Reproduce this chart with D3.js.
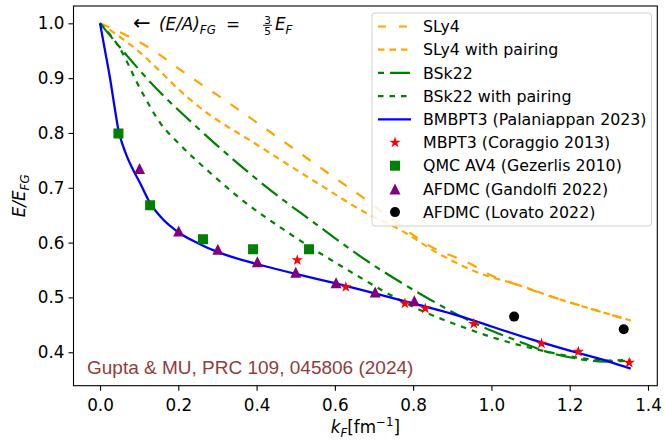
<!DOCTYPE html>
<html>
<head>
<meta charset="utf-8">
<script src="https://cdn.jsdelivr.net/npm/d3@7"></script>
<style>
  body { margin: 0; background: #fff; }
  svg { display: block; font-family: "DejaVu Sans", sans-serif; }
</style>
</head>
<body>
<svg id="chart" width="664" height="440"></svg>
<script>
// curves (kF in fm^-1, E/E_FG)
const sly4K = [0, 0.146, 0.2, 0.256, 0.3, 0.45, 0.6, 0.68, 0.75, 0.84, 0.95, 1.0, 1.05, 1.16, 1.26, 1.356];
const sly4E = [1.0, 0.946, 0.918, 0.89, 0.869, 0.794, 0.718, 0.678, 0.64, 0.595, 0.56, 0.54, 0.527, 0.5, 0.478, 0.458];

const sly4pK = [0, 0.1, 0.15, 0.2, 0.256, 0.4, 0.55, 0.685, 0.76, 0.87, 0.99, 1.05, 1.16, 1.26, 1.356];
const sly4pE = [1.0, 0.948, 0.915, 0.88, 0.846, 0.779, 0.711, 0.652, 0.626, 0.578, 0.539, 0.527, 0.5, 0.478, 0.458];

const bsk22K = [0, 0.064, 0.128, 0.256, 0.462, 0.538, 0.667, 0.846, 0.957, 1.07, 1.128, 1.213, 1.29, 1.356];
const bsk22E = [1.0, 0.945, 0.893, 0.805, 0.681, 0.641, 0.574, 0.495, 0.453, 0.42, 0.404, 0.389, 0.383, 0.385];

const bsk22pK = [0, 0.05, 0.103, 0.154, 0.205, 0.282, 0.359, 0.479, 0.633, 0.803, 0.923, 1.017, 1.136, 1.213, 1.3, 1.356];
const bsk22pE = [1.0, 0.955, 0.88, 0.818, 0.778, 0.727, 0.68, 0.619, 0.55, 0.482, 0.447, 0.424, 0.402, 0.391, 0.385, 0.386];

const bmbptK = [0, 0.012, 0.025, 0.037, 0.047, 0.058, 0.07, 0.085, 0.1, 0.128, 0.16, 0.2, 0.25, 0.3, 0.4, 0.5, 0.6, 0.7, 0.8, 0.9, 1.0, 1.1, 1.2, 1.3, 1.356];
const bmbptE = [1.0, 0.953, 0.902, 0.848, 0.805, 0.778, 0.755, 0.732, 0.712, 0.672, 0.643, 0.619, 0.599, 0.583, 0.561, 0.543, 0.526, 0.508, 0.489, 0.47, 0.447, 0.424, 0.403, 0.383, 0.37];

// points
const mbptK = [0.504, 0.628, 0.779, 0.831, 0.955, 1.128, 1.222, 1.352];
const mbptE = [0.568, 0.519, 0.489, 0.48, 0.452, 0.416, 0.401, 0.381];
const qmcK = [0.047, 0.128, 0.263, 0.391, 0.534];
const qmcE = [0.799, 0.668, 0.606, 0.588, 0.588];
const gandK = [0.101, 0.201, 0.301, 0.402, 0.5, 0.603, 0.703, 0.803];
const gandE = [0.735, 0.621, 0.588, 0.565, 0.546, 0.527, 0.51, 0.494];
const lovatoK = [1.058, 1.338];
const lovatoE = [0.465, 0.442];

const xTicks = [0.0, 0.2, 0.4, 0.6, 0.8, 1.0, 1.2, 1.4];
const yTicks = [0.4, 0.5, 0.6, 0.7, 0.8, 0.9, 1.0];

const svg = d3.select("#chart");
const box = { left: 73.5, right: 657.3, top: 6, bottom: 385.7 };

const x = d3.scaleLinear().domain([-0.0678, 1.4238]).range([box.left, box.right]);
const y = d3.scaleLinear().domain([0.339, 1.0316]).range([box.bottom, box.top]);

const zip = (ks, es) => ks.map((k, i) => [k, es[i]]);
const line = d3.line().x(d => x(d[0])).y(d => y(d[1])).curve(d3.curveMonotoneX);

const curves = [
  { label: "SLy4", data: zip(sly4K, sly4E), color: "#ffa500", dash: "10,12", legendDash: "8,13", width: 2.2 },
  { label: "SLy4 with pairing", data: zip(sly4pK, sly4pE), color: "#ffa500", dash: "6.5,5", legendDash: "6.5,5", width: 2.2 },
  { label: "BSk22", data: zip(bsk22K, bsk22E), color: "#008000", dash: "20,6,6,6", legendDash: "20,6,6,6", legendOffset: 26, width: 2.2 },
  { label: "BSk22 with pairing", data: zip(bsk22pK, bsk22pE), color: "#008000", dash: "5.5,6", legendDash: "5.5,6", width: 2.2 },
  { label: "BMBPT3 (Palaniappan 2023)", data: zip(bmbptK, bmbptE), color: "#0000ff", dash: null, width: 2.3 }
];

svg.append("clipPath").attr("id", "plotclip")
  .append("rect").attr("x", box.left).attr("y", box.top)
  .attr("width", box.right - box.left).attr("height", box.bottom - box.top);

const plot = svg.append("g").attr("clip-path", "url(#plotclip)");

curves.forEach(c => {
  plot.append("path")
    .datum(c.data)
    .attr("d", line)
    .attr("fill", "none")
    .attr("stroke", c.color)
    .attr("stroke-width", c.width)
    .attr("stroke-dasharray", c.dash);
});

// marker shapes
const triPath = h => `M0,${-h}L${h},${h}L${-h},${h}Z`;
const starSym = d3.symbol().type(d3.symbolStar).size(40)();
const squareSym = d3.symbol().type(d3.symbolSquare).size(100)();

const markers = [
  { label: "MBPT3 (Coraggio 2013)", data: zip(mbptK, mbptE), color: "red", shape: starSym },
  { label: "QMC AV4 (Gezerlis 2010)", data: zip(qmcK, qmcE), color: "#008000", shape: squareSym },
  { label: "AFDMC (Gandolfi 2022)", data: zip(gandK, gandE), color: "#800080", shape: triPath(5.5) },
  { label: "AFDMC (Lovato 2022)", data: zip(lovatoK, lovatoE), color: "black", shape: "circle" }
];

markers.forEach(m => {
  const g = plot.append("g");
  if (m.shape === "circle") {
    g.selectAll("circle").data(m.data).join("circle")
      .attr("cx", d => x(d[0])).attr("cy", d => y(d[1])).attr("r", 5)
      .attr("fill", m.color);
  } else {
    g.selectAll("path").data(m.data).join("path")
      .attr("d", m.shape)
      .attr("transform", d => `translate(${x(d[0])},${y(d[1])})`)
      .attr("fill", m.color);
  }
});

// axes
const xAxis = svg.append("g").attr("transform", `translate(0,${box.bottom})`)
  .call(d3.axisBottom(x).tickValues(xTicks).tickFormat(d3.format(".1f")).tickSize(5).tickPadding(8.5).tickSizeOuter(0));
const yAxis = svg.append("g").attr("transform", `translate(${box.left},0)`)
  .call(d3.axisLeft(y).tickValues(yTicks).tickFormat(d3.format(".1f")).tickSize(5).tickPadding(4).tickSizeOuter(0));
[xAxis, yAxis].forEach(a => {
  a.select(".domain").remove();
  a.selectAll("text").attr("font-size", 16.8).attr("font-family", "DejaVu Sans").attr("fill", "#000");
  a.selectAll("line").attr("stroke", "#000").attr("stroke-width", 1.1);
});

svg.append("rect")
  .attr("x", box.left).attr("y", box.top)
  .attr("width", box.right - box.left).attr("height", box.bottom - box.top)
  .attr("fill", "none").attr("stroke", "#000").attr("stroke-width", 1.1);

// axis labels
const xl = svg.append("text").attr("x", (box.left + box.right) / 2).attr("y", 433)
  .attr("text-anchor", "middle").attr("font-size", 16.8);
xl.append("tspan").attr("font-style", "italic").text("k");
xl.append("tspan").attr("font-style", "italic").attr("font-size", 11.8).attr("dy", 4).text("F");
xl.append("tspan").attr("dy", -4).text("[fm");
xl.append("tspan").attr("font-size", 11.8).attr("dy", -7).text("−1");
xl.append("tspan").attr("dy", 7).text("]");

const yl = svg.append("text")
  .attr("transform", `translate(25,${(box.top + box.bottom) / 2}) rotate(-90)`)
  .attr("text-anchor", "middle").attr("font-size", 16.8).attr("font-style", "italic");
yl.append("tspan").text("E/E");
yl.append("tspan").attr("font-size", 11.8).attr("dy", 4).text("FG");

// annotation at the free-gas limit
const ann = svg.append("g").attr("font-size", 16.8);
ann.append("text").attr("x", 133).attr("y", 30).attr("font-size", 21).text("←");
const a2 = ann.append("text").attr("x", 159).attr("y", 30).attr("font-style", "italic");
a2.append("tspan").text("(E/A)");
a2.append("tspan").attr("font-size", 11.8).attr("dy", 4).text("FG");
ann.append("text").attr("x", 226).attr("y", 30).text("=");
ann.append("text").attr("x", 267.5).attr("y", 23.5).attr("font-size", 10.5).attr("text-anchor", "middle").text("3");
ann.append("line").attr("x1", 263).attr("x2", 272).attr("y1", 25.3).attr("y2", 25.3).attr("stroke", "#000").attr("stroke-width", 0.9);
ann.append("text").attr("x", 267.5).attr("y", 34.5).attr("font-size", 10.5).attr("text-anchor", "middle").text("5");
const a3 = ann.append("text").attr("x", 275).attr("y", 30).attr("font-style", "italic");
a3.append("tspan").text("E");
a3.append("tspan").attr("font-size", 11.8).attr("dy", 4).text("F");

// citation
svg.append("text").attr("x", 87).attr("y", 374)
  .attr("font-family", "Liberation Sans").attr("font-size", 19)
  .attr("fill", "#8f3c3c")
  .text("Gupta & MU, PRC 109, 045806 (2024)");

// legend
const lg = svg.append("g");
lg.append("rect").attr("x", 372).attr("y", 13).attr("width", 279.5).attr("height", 213)
  .attr("rx", 3).attr("fill", "#fff").attr("fill-opacity", 0.85)
  .attr("stroke", "#d0d0d0").attr("stroke-width", 1);
const entries = curves.concat(markers);
entries.forEach((e, i) => {
  const cy = 26.5 + i * 23.2;
  if (e.shape === undefined) {
    lg.append("line").attr("x1", 378).attr("x2", 411).attr("y1", cy).attr("y2", cy)
      .attr("stroke", e.color).attr("stroke-width", e.width)
      .attr("stroke-dasharray", e.legendDash || null)
      .attr("stroke-dashoffset", e.legendOffset || 0);
  } else if (e.shape === "circle") {
    lg.append("circle").attr("cx", 395).attr("cy", cy).attr("r", 5).attr("fill", e.color);
  } else {
    lg.append("path").attr("d", e.shape).attr("transform", `translate(395,${cy})`).attr("fill", e.color);
  }
  lg.append("text").attr("x", 423).attr("y", cy).attr("dy", "0.36em")
    .attr("font-size", 15.8).text(e.label);
});
</script>
</body>
</html>
